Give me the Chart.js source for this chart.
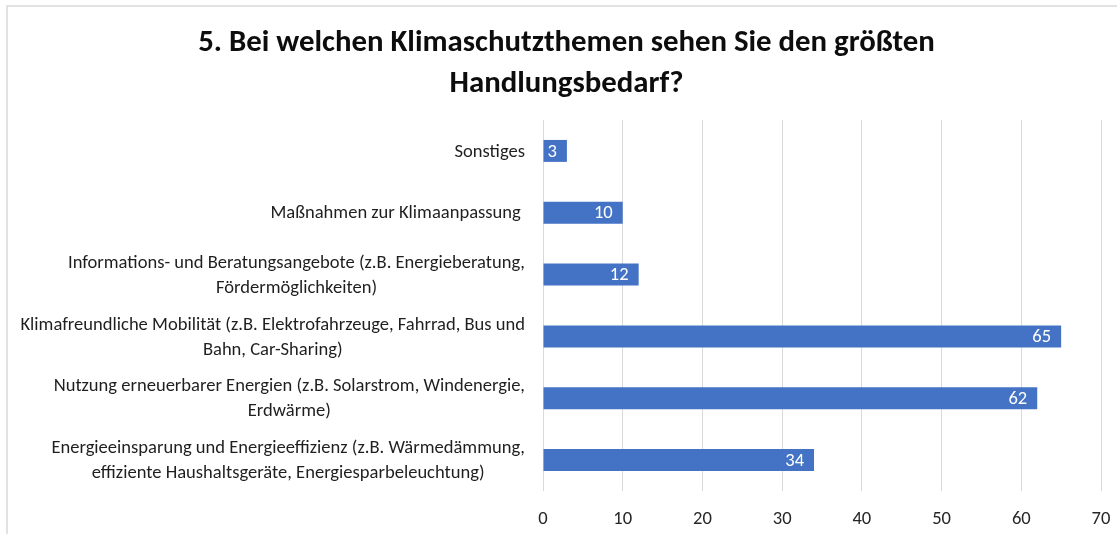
<!DOCTYPE html>
<html><head><meta charset="utf-8">
<script src="https://cdn.jsdelivr.net/npm/chart.js@4.4.1/dist/chart.umd.min.js"></script>
<style>html,body{margin:0;padding:0;background:#fff;overflow:hidden}#wrap{position:relative;width:1117px;height:534px}</style>
</head><body><div id="wrap"><canvas id="c" width="1117" height="534"></canvas></div>
<script>
const titleLines = ["5. Bei welchen Klimaschutzthemen sehen Sie den größten", "Handlungsbedarf?"];
const categories = [
  ["Sonstiges"],
  ["Maßnahmen zur Klimaanpassung "],
  ["Informations- und Beratungsangebote (z.B. Energieberatung,", "Fördermöglichkeiten)"],
  ["Klimafreundliche Mobilität (z.B. Elektrofahrzeuge, Fahrrad, Bus und", "Bahn, Car-Sharing)"],
  ["Nutzung erneuerbarer Energien (z.B. Solarstrom, Windenergie,", "Erdwärme)"],
  ["Energieeinsparung und Energieeffizienz (z.B. Wärmedämmung,", "effiziente Haushaltsgeräte, Energiesparbeleuchtung)"]
];
const values = [3, 10, 12, 65, 62, 34];
const xTicks = [0, 10, 20, 30, 40, 50, 60, 70];

const FAMILY = 'Carlito, Lato, "Noto Sans", sans-serif';
const mctx = document.createElement('canvas').getContext('2d');
function fit(text, weight, target) {
  mctx.font = weight + ' 100px ' + FAMILY;
  return 100 * target / mctx.measureText(text).width;
}
const titleSize = fit(titleLines[0], 'bold', 737);
const labelSize = fit(categories[3][0], 'normal', 505);

const deco = {
  id: 'deco',
  beforeDraw(chart) {
    const c = chart.ctx;
    c.save();
    c.fillStyle = '#fff';
    c.fillRect(0, 0, chart.width, chart.height);
    c.strokeStyle = '#d9d9d9';
    c.lineWidth = 1.5;
    c.beginPath();
    c.moveTo(7, chart.height); c.lineTo(7, 6); c.lineTo(chart.width, 6);
    c.stroke();
    c.restore();
  },
  afterDatasetsDraw(chart) {
    const c = chart.ctx;
    const meta = chart.getDatasetMeta(0);
    c.save();
    c.font = 'normal ' + labelSize + 'px ' + FAMILY;
    c.fillStyle = '#ffffff';
    c.textAlign = 'right';
    c.textBaseline = 'middle';
    meta.data.forEach((el, i) => {
      c.fillText(String(values[i]), el.x - 10, el.y + 1);
    });
    c.restore();
  },
  afterDraw(chart) {
    const c = chart.ctx;
    c.save();
    c.font = 'bold ' + titleSize + 'px ' + FAMILY;
    c.fillStyle = '#0d0d0d';
    c.textAlign = 'center';
    c.textBaseline = 'alphabetic';
    c.fillText(titleLines[0], 566.5, 50.7);
    c.fillText(titleLines[1], 566.5, 91.7);
    const ys = chart.scales.y;
    c.font = 'normal ' + labelSize + 'px ' + FAMILY;
    c.fillStyle = '#1f1f1f';
    c.textAlign = 'center';
    c.textBaseline = 'middle';
    const lh = 25;
    categories.forEach((lines, i) => {
      const yc = ys.getPixelForValue(i);
      const w = Math.max(...lines.map(l => c.measureText(l).width));
      const cx = 525 - w / 2;
      const y0 = yc - (lines.length - 1) * lh / 2;
      lines.forEach((l, k) => c.fillText(l, cx, y0 + k * lh + 1));
    });
    c.restore();
  }
};

new Chart(document.getElementById('c'), {
  type: 'bar',
  data: {
    labels: categories.map((l, i) => i),
    datasets: [{
      data: values,
      backgroundColor: '#4472c4',
      borderWidth: 0,
      barPercentage: 0.355,
      categoryPercentage: 1.0
    }]
  },
  options: {
    indexAxis: 'y',
    responsive: false,
    animation: false,
    events: [],
    layout: { padding: { top: 120, left: 0, right: 16, bottom: 0 } },
    plugins: { legend: { display: false }, title: { display: false }, tooltip: { enabled: false } },
    scales: {
      x: {
        type: 'linear',
        min: 0, max: 70,
        afterBuildTicks(scale) { scale.ticks = xTicks.map(v => ({ value: v })); },
        afterFit(scale) { scale.height = 43; scale.paddingLeft = 0; scale.paddingRight = 0; },
        grid: { color: '#d9d9d9', lineWidth: 1, drawTicks: false },
        border: { display: false },
        ticks: { padding: 17, color: '#262626', font: { family: FAMILY, size: labelSize } }
      },
      y: {
        type: 'category',
        afterFit(scale) { scale.width = 543; },
        grid: { display: false },
        border: { display: false },
        ticks: { display: false }
      }
    }
  },
  plugins: [deco]
});
</script>
</body></html>
